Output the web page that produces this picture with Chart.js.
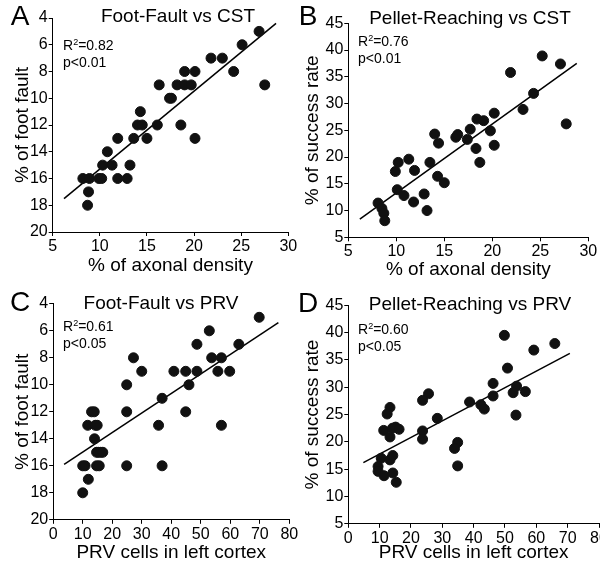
<!DOCTYPE html>
<html>
<head>
<meta charset="utf-8">
<script src="https://cdn.jsdelivr.net/npm/chart.js@4.4.1/dist/chart.umd.min.js"></script>
<style>
  body { margin: 0; width: 600px; height: 569px; overflow: hidden; background: #fff; position: relative;
         font-family: "Liberation Sans", Arial, sans-serif; color: #000; }
  canvas { position: absolute; }
  .lbl { position: absolute; transform: translate(-50%, -50%); white-space: nowrap; line-height: 1; }
  .letter { font-size: 28px; }
  .title { font-size: 19px; }
  .stat { position: absolute; font-size: 14px; line-height: 17px; white-space: nowrap; }
  .stat sup { font-size: 9px; vertical-align: 5px; line-height: 0; }
</style>
</head>
<body>
<canvas id="chartA" width="300" height="285" style="left:0;top:0"></canvas>
<canvas id="chartB" width="300" height="285" style="left:300px;top:0"></canvas>
<canvas id="chartC" width="300" height="284" style="left:0;top:285px"></canvas>
<canvas id="chartD" width="320" height="284" style="left:300px;top:285px"></canvas>

<div class="lbl letter" style="left:20px;top:16px">A</div>
<div class="lbl letter" style="left:308px;top:16px">B</div>
<div class="lbl letter" style="left:20px;top:302px">C</div>
<div class="lbl letter" style="left:308px;top:303px">D</div>

<div class="lbl title" style="left:178px;top:15px">Foot-Fault vs CST</div>
<div class="lbl title" style="left:470px;top:17px">Pellet-Reaching vs CST</div>
<div class="lbl title" style="left:161px;top:302px">Foot-Fault vs PRV</div>
<div class="lbl title" style="left:470px;top:303px">Pellet-Reaching vs PRV</div>

<div class="stat" style="left:63px;top:37px">R<sup>2</sup>=0.82<br>p&lt;0.01</div>
<div class="stat" style="left:358px;top:33px">R<sup>2</sup>=0.76<br>p&lt;0.01</div>
<div class="stat" style="left:63px;top:318px">R<sup>2</sup>=0.61<br>p&lt;0.05</div>
<div class="stat" style="left:358px;top:321px">R<sup>2</sup>=0.60<br>p&lt;0.05</div>

<script>
// A: foot fault vs CST axonal density
const axonA = [8.2, 8.9, 8.8, 8.7, 9.9, 10.2, 10.3, 10.8, 11.3, 11.9, 11.9, 12.9, 13.2, 13.6, 14.0, 14.5, 14.3, 15.0,
  16.1, 16.3, 17.4, 17.6, 18.6, 18.2, 19.0, 19.7, 19.0, 20.1, 20.1, 21.8, 23.0, 24.2, 25.1, 26.9, 27.5];
const faultA = [16, 16, 17, 18, 16, 16, 15, 14, 15, 13, 16, 16, 15, 13, 12, 12, 11, 13,
  12, 9, 10, 10, 12, 9, 9, 9, 8, 8, 13, 7, 7, 8, 6, 5, 9];
const fitAx = [6.2, 28.7];
const fitAy = [17.5, 4.4];

// B: pellet reaching vs CST axonal density
const axonB = [8.1, 8.5, 8.7, 8.8, 9.9, 10.2, 10.1, 10.8, 11.3, 11.9, 11.8, 12.9, 13.2, 13.5, 14.0, 14.4, 14.3, 15.0,
  16.2, 16.4, 17.4, 17.7, 18.3, 18.4, 19.1, 18.7, 19.8, 20.2, 20.2, 21.9, 23.2, 24.3, 25.2, 27.1, 27.7];
const successB = [11.4, 10.4, 9.5, 8.1, 17.3, 19.0, 13.9, 12.8, 19.6, 17.5, 11.6, 13.1, 10.0, 19.0, 24.3, 22.6, 16.4, 15.2,
  23.7, 24.2, 23.3, 25.2, 21.6, 27.1, 26.8, 19.0, 24.9, 28.2, 22.2, 35.8, 28.9, 31.9, 38.9, 37.4, 26.2];
const fitBx = [6.2, 28.8];
const fitBy = [8.4, 37.5];

// C: foot fault vs PRV cells
const prvC = [69.8, 52.9, 62.9, 48.7, 27.2, 53.7, 57.0, 30.0, 40.9, 44.9, 48.7, 55.8, 59.8, 24.9, 46.0, 36.9, 44.9, 24.9, 35.7,
  57.0, 24.9, 36.9, 13.0, 13.9, 11.7, 14.3, 14.9, 14.0, 14.7, 15.3, 16.1, 16.8, 10.0, 10.8, 14.7, 15.6, 11.9, 10.0];
const faultC = [5, 6, 7, 7, 8, 8, 8, 9, 9, 9, 9, 9, 9, 10, 10, 11, 12, 12, 13,
  13, 16, 16, 12, 12, 13, 13, 13, 14, 15, 15, 15, 15, 16, 16, 16, 16, 17, 18];
const fitCx = [3.7, 76.3];
const fitCy = [15.9, 5.4];

// D: pellet reaching vs PRV cells
const prvD = [49.8, 65.9, 59.2, 50.8, 46.2, 53.7, 46.2, 52.6, 56.5, 53.5, 38.7, 42.3, 43.4, 25.6, 23.7, 28.4, 23.7, 23.7,
  34.9, 33.9, 34.9, 13.3, 12.4, 11.3, 13.3, 14.1, 15.1, 16.2, 10.5, 13.3, 14.2, 9.5, 9.5, 11.4, 14.2, 15.3];
const successD = [39.5, 38.0, 36.8, 33.5, 30.7, 30.2, 28.4, 29.0, 29.2, 24.9, 27.3, 26.8, 26.0, 28.8, 27.6, 24.3, 22.0, 20.5,
  19.9, 18.8, 15.6, 26.3, 25.1, 22.1, 20.9, 22.5, 22.7, 22.3, 17.0, 16.7, 17.5, 15.5, 14.6, 13.8, 14.3, 12.6];
const fitDx = [4.8, 70.7];
const fitDy = [16.2, 36.2];

// axis ranges and titles
const cstTicks = {min: 5, max: 30, step: 5, title: "% of axonal density"};
const prvTicks = {min: 0, max: 80, step: 10, title: "PRV cells in left cortex"};
const faultTicks = {min: 4, max: 20, step: 2, title: "% of foot fault", reverse: true};
const successTicks = {min: 5, max: 45, step: 5, title: "% of success rate", reverse: false};

Chart.defaults.font.family = "'Liberation Sans', Arial, sans-serif";
Chart.defaults.color = "#000";

function makePanel(id, xs, ys, lineX, lineY, xa, ya, box) {
  const pts = xs.map((x, i) => ({x: x, y: ys[i]}));
  const fitPts = lineX.map((x, i) => ({x: x, y: lineY[i]}));
  new Chart(document.getElementById(id), {
    type: "scatter",
    data: {
      datasets: [
        {data: pts, backgroundColor: "#111", borderColor: "#111", pointRadius: 5, pointHoverRadius: 5},
        {data: fitPts, showLine: true, borderColor: "#000", borderWidth: 1.5, pointRadius: 0, fill: false}
      ]
    },
    options: {
      responsive: false,
      animation: false,
      events: [],
      layout: {padding: {top: box.top, right: box.right, left: 0, bottom: 0}},
      plugins: {legend: {display: false}, tooltip: {enabled: false}},
      scales: {
        x: {
          type: "linear", min: xa.min, max: xa.max,
          ticks: {stepSize: xa.step, font: {size: 16}, padding: 1, maxRotation: 0, autoSkip: false},
          grid: {display: true, drawOnChartArea: false, tickLength: 4, color: "#000"},
          border: {color: "#000", width: 1},
          title: {display: true, text: xa.title, font: {size: 19}, padding: {top: 0, bottom: box.xtPad}},
          afterFit: s => { s.height = box.xh; }
        },
        y: {
          type: "linear", min: ya.min, max: ya.max, reverse: ya.reverse,
          ticks: {stepSize: ya.step, font: {size: 16}, padding: 1, autoSkip: false},
          grid: {display: true, drawOnChartArea: false, tickLength: 4, color: "#000"},
          border: {color: "#000", width: 1},
          title: {display: true, text: ya.title, font: {size: 19}, padding: {top: box.ytPad, bottom: 0}},
          afterFit: s => { s.width = box.yw; }
        }
      }
    }
  });
}

makePanel("chartA", axonA, faultA, fitAx, fitAy, cstTicks, faultTicks,
  {top: 18, right: 11.7, yw: 52.7, xh: 53, xtPad: 8.2, ytPad: 11});
makePanel("chartB", axonB, successB, fitBx, fitBy, cstTicks, successTicks,
  {top: 23.3, right: 11.7, yw: 48.3, xh: 47.7, xtPad: 4.2, ytPad: 1});
makePanel("chartC", prvC, faultC, fitCx, fitCy, prvTicks, faultTicks,
  {top: 18.8, right: 10.7, yw: 53.2, xh: 49.2, xtPad: 5.2, ytPad: 11});
makePanel("chartD", prvD, successD, fitDx, fitDy, prvTicks, successTicks,
  {top: 20.3, right: 21, yw: 48.3, xh: 45.2, xtPad: 5.2, ytPad: 1});
</script>
</body>
</html>
